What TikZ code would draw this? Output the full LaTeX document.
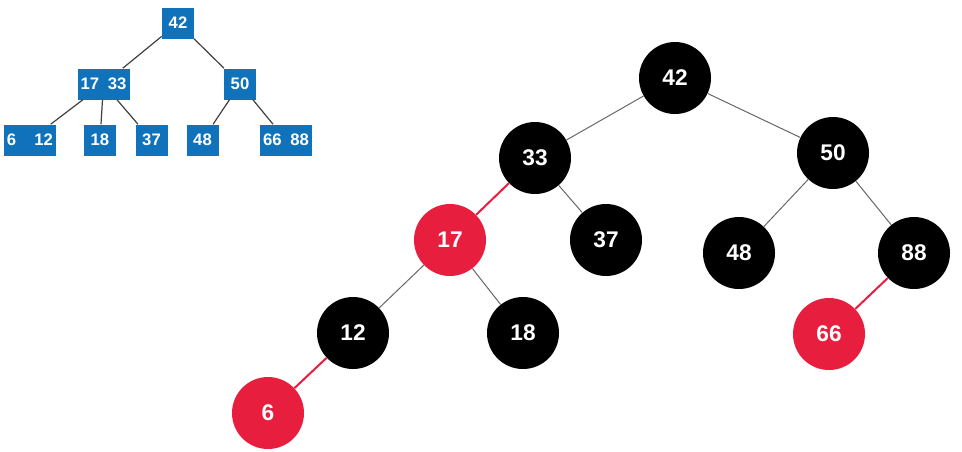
\documentclass[tikz,border=0pt]{standalone}
\usepackage{fontspec}
\setmainfont{Liberation Sans}
\usetikzlibrary{graphs}
\definecolor{rbred}{RGB}{232,30,62}
\definecolor{btblue}{RGB}{16,114,186}
\tikzset{
    x=0.75pt, y=-0.75pt,
    rbnode/.style={circle,minimum size=54pt,inner sep=0pt,text=white,
        font=\fontsize{17}{17}\selectfont\bfseries},
    blk/.style={rbnode,fill=black},
    rd/.style={rbnode,fill=rbred},
    bkey/.style={rectangle,fill=btblue,text=white,minimum width=24pt,
        minimum height=23.25pt,inner sep=0pt,
        font=\fontsize{12.5}{13}\selectfont\bfseries},
    bkeytwo/.style={bkey,minimum width=39pt},
    tedge/.style={draw=black!60,line width=0.75pt},
    redge/.style={draw=rbred,line width=1.5pt},
    bedge/.style={draw=black!75,line width=0.9pt},
}
\newcommand{\twokeys}[2]{\makebox[34.5pt]{#1\hfill#2}}

\begin{document}
\begin{tikzpicture}
    \useasboundingbox (0,0) rectangle (962,451);

    % B-tree
    \node[bkey] (bt42) at (178,23) {42};
    \node[bkeytwo] (bt1733) at (103.5,84) {\twokeys{17}{33}};
    \node[bkey] (bt50) at (240,84) {50};
    \node[bkeytwo] (bt612) at (30,140) {\twokeys{6}{12}};
    \node[bkey] (bt18) at (100,140) {18};
    \node[bkey] (bt37) at (151.5,140) {37};
    \node[bkey] (bt48) at (202.5,140) {48};
    \node[bkeytwo] (bt6688) at (286,140) {\twokeys{66}{88}};

    % red-black tree
    \node[blk] (rb42) at (675,78) {42};
    \node[blk] (rb33) at (535,158) {33};
    \node[blk] (rb50) at (833,153) {50};
    \node[rd]  (rb17) at (450,240) {17};
    \node[blk] (rb37) at (606,240) {37};
    \node[blk] (rb48) at (739,253) {48};
    \node[blk] (rb88) at (914,253) {88};
    \node[blk] (rb12) at (353,333) {12};
    \node[blk] (rb18) at (523,333) {18};
    \node[rd]  (rb66) at (829,334) {66};
    \node[rd]  (rb6)  at (268,413) {6};

    \graph[use existing nodes] {
        bt42 --[bedge] {bt1733, bt50};
        bt1733 --[bedge] {bt612, bt18, bt37};
        bt50 --[bedge] {bt48, bt6688};

        rb42 --[tedge] {rb33, rb50};
        rb33 --[redge] rb17;
        rb33 --[tedge] rb37;
        rb50 --[tedge] {rb48, rb88};
        rb17 --[tedge] {rb12, rb18};
        rb12 --[redge] rb6;
        rb88 --[redge] rb66;
    };
\end{tikzpicture}
\end{document}
